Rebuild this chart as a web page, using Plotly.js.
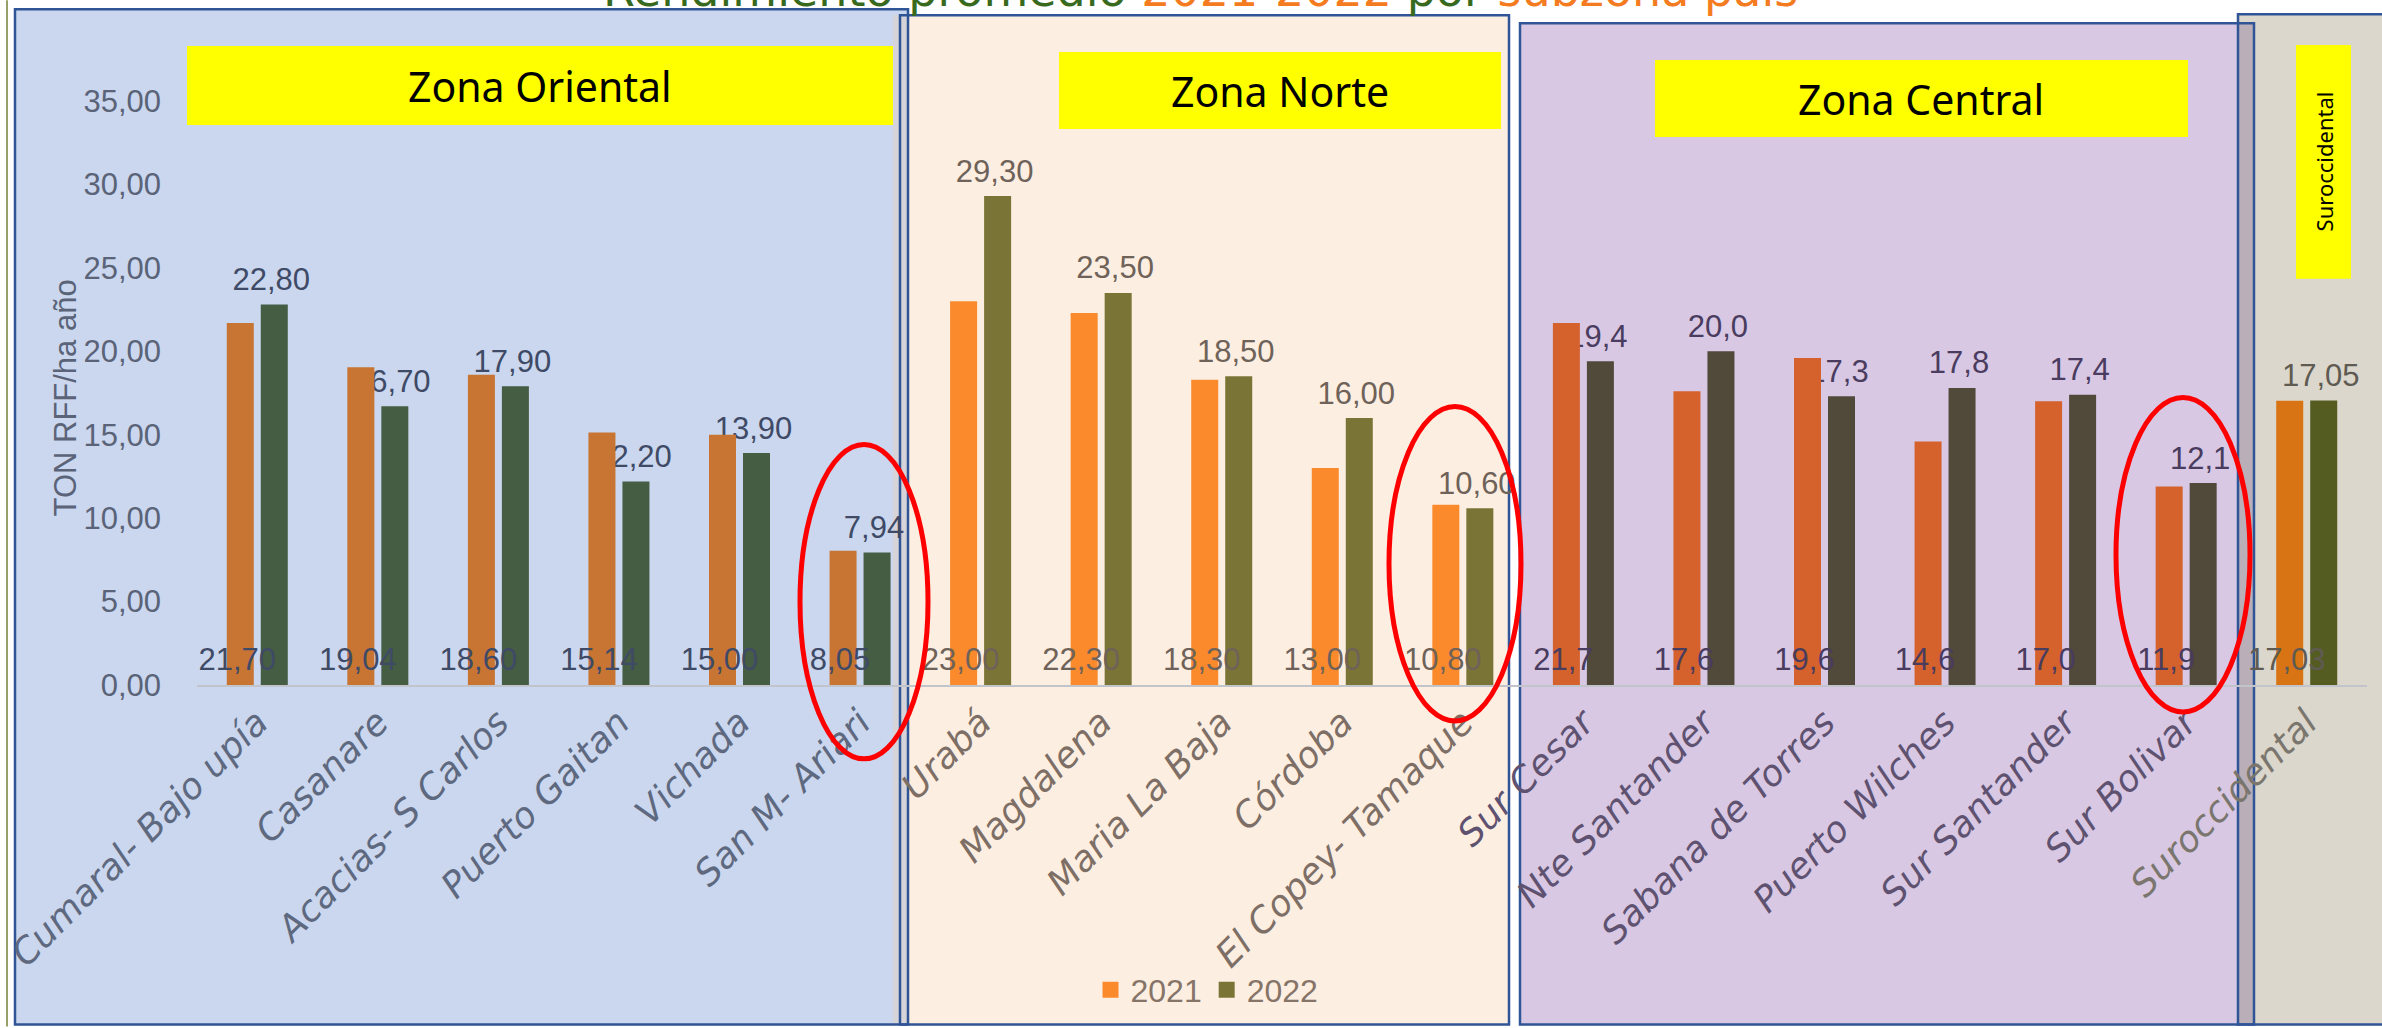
<!DOCTYPE html>
<html><head><meta charset="utf-8">
<script src="https://cdn.plot.ly/plotly-3.0.1.min.js"></script>
<style>html,body{margin:0;padding:0;background:#fff;overflow:hidden;} #chart{width:2382px;height:1028px;}</style>
</head><body><div id="chart"></div>
<script>
// ---------- data ----------
const categories = ["Cumaral- Bajo upía","Casanare","Acacias- S Carlos","Puerto Gaitan","Vichada","San M- Ariari",
  "Urabá","Magdalena","Maria La Baja","Córdoba","El Copey- Tamaque",
  "Sur Cesar","Nte Santander","Sabana de Torres","Puerto Wilches","Sur Santander","Sur Bolivar",
  "Suroccidental"];
const zones = ["O","O","O","O","O","O","N","N","N","N","N","C","C","C","C","C","C","S"];
const values2021 = [21.70,19.04,18.60,15.14,15.00,8.05,23.00,22.30,18.30,13.00,10.80,21.7,17.6,19.6,14.6,17.0,11.9,17.03];
const values2022 = [22.80,16.70,17.90,12.20,13.90,7.94,29.30,23.50,18.50,16.00,10.60,19.4,20.0,17.3,17.8,17.4,12.1,17.05];
const labels2021 = ["21,70","19,04","18,60","15,14","15,00","8,05","23,00","22,30","18,30","13,00","10,80","21,7","17,6","19,6","14,6","17,0","11,9","17,03"];
const labels2022 = ["22,80","16,70","17,90","12,20","13,90","7,94","29,30","23,50","18,50","16,00","10,60","19,4","20,0","17,3","17,8","17,4","12,1","17,05"];
const seriesNames = ["2021","2022"];
const zoneNames = ["Zona Oriental","Zona Norte","Zona Central","Suroccidental"];
const titleParts = ["Rendimiento promedio ","2021-2022"," por ","subzona país"];
const yTitle = "TON RFF/ha año";

// ---------- geometry helpers ----------
const W = 2382, H = 1028;
const M = {l:197, r:15, t:101, b:342};
const PW = W - M.l - M.r, PH = H - M.t - M.b;
const px = x => (x - M.l) / PW;
const py = y => (H - M.b - y) / PH;

const zoneStyle = {
  O: {c21:'#C87533', c22:'#455D43', txt:'#3F4A66', tick:'#5E6980'},
  N: {c21:'#FB8A2C', c22:'#7A7536', txt:'#6E6259', tick:'#7D6F66'},
  C: {c21:'#D5622C', c22:'#514A3A', txt:'#4A3C5E', tick:'#5E5270'},
  S: {c21:'#D97414', c22:'#545C22', txt:'#5F5B52', tick:'#7A766E'}
};
const numFont = 'Liberation Sans, Arial, sans-serif';
const barW = 0.224, barSep = 0.141;

const ticktext = categories.map((c,i)=>`<span style="color:${zoneStyle[zones[i]].tick}">${c}</span>`);

const traces = [
  {type:'bar', name:seriesNames[1], x:categories, y:values2022, showlegend:false,
   width:barW, offset:barSep - barW/2,
   marker:{color:zones.map(z=>zoneStyle[z].c22)},
   text:labels2022, texttemplate:'%{text}<sub>\u00a0</sub>', textposition:'outside', textangle:0, constraintext:'none',
   textfont:{family:numFont, size:31, color:zones.map(z=>zoneStyle[z].txt)},
   cliponaxis:false, hoverinfo:'skip'},
  {type:'bar', name:seriesNames[0], x:categories, y:values2021, showlegend:false,
   width:barW, offset:-barSep - barW/2,
   marker:{color:zones.map(z=>zoneStyle[z].c21)},
   text:labels2021, texttemplate:'%{text}<sub>\u00a0</sub>', textposition:'inside', insidetextanchor:'start', textangle:0, constraintext:'none',
   textfont:{family:numFont, size:31, color:zones.map(z=>zoneStyle[z].txt)},
   cliponaxis:false, hoverinfo:'skip'},
  {type:'scatter', mode:'markers', name:seriesNames[0], x:[null], y:[null],
   marker:{symbol:'square', size:16, color:zoneStyle.N.c21}},
  {type:'scatter', mode:'markers', name:seriesNames[1], x:[null], y:[null],
   marker:{symbol:'square', size:16, color:zoneStyle.N.c22}}
];

function rect(x0,x1,y0,y1,fill,line,layer){
  return {type:'rect', xref:'paper', yref:'paper', x0:px(x0), x1:px(x1), y0:py(y1), y1:py(y0),
    fillcolor:fill||'rgba(0,0,0,0)', line:line||{width:0}, layer:layer||'below'};
}
function ell(x0,x1,y0,y1){
  return {type:'circle', xref:'paper', yref:'paper', x0:px(x0), x1:px(x1), y0:py(y1), y1:py(y0),
    line:{color:'#FF0000', width:5}, layer:'above'};
}
const border = {color:'#2F5597', width:2.5};
const shapes = [
  rect(15,908,9,1026,'#CAD7EE'),
  rect(900,1509,15,1026,'#FDEEE2'),
  rect(1520,2254,23,1026,'#D8C8E4'),
  rect(2238,2400,14,1026,'#DBD7CC'),
  rect(893,908,15,1026,'#D6D4D8'),
  rect(2238,2254,23,1026,'#BAAFB8'),
  rect(15,908,9,1026,null,border),
  rect(900,1509,15,1026,null,border),
  rect(1520,2254,23,1026,null,border),
  rect(2238,2400,14,1026,null,border),
  {type:'line', xref:'paper', yref:'paper', x0:px(7), x1:px(7), y0:py(0), y1:py(1028), line:{color:'#95A165', width:2}, layer:'below'},
  rect(187,893,46,125,'#FFFF00'),
  rect(1059,1501,52,129,'#FFFF00'),
  rect(1655,2188,60,137,'#FFFF00'),
  rect(2296,2351,45,279,'#FFFF00'),
  ell(800,928,445,760),
  ell(1389,1521,407,722),
  ell(2116,2250,398,713)
];

const zoneFont = {family:'Noto Sans, sans-serif', size:41, color:'#000'};
const annotations = [
  {xref:'paper', yref:'paper', x:px(1200), y:py(19), xanchor:'center', yanchor:'bottom', showarrow:false,
   font:{family:'DejaVu Sans, sans-serif', size:46},
   text:`<span style="color:#386A1E">${titleParts[0]}</span><span style="color:#F47B20">${titleParts[1]}</span><span style="color:#386A1E">${titleParts[2]}</span><span style="color:#F47B20">${titleParts[3]}</span>`},
  {xref:'paper', yref:'paper', x:px(65), y:py(399), xanchor:'center', yanchor:'middle', showarrow:false,
   textangle:-90, text:yTitle, font:{family:numFont, size:31, color:'#5A6378'}},
  {xref:'paper', yref:'paper', x:px(540), y:py(86), xanchor:'center', yanchor:'middle', showarrow:false, text:zoneNames[0], font:zoneFont},
  {xref:'paper', yref:'paper', x:px(1280), y:py(91), xanchor:'center', yanchor:'middle', showarrow:false, text:zoneNames[1], font:zoneFont},
  {xref:'paper', yref:'paper', x:px(1921), y:py(99), xanchor:'center', yanchor:'middle', showarrow:false, text:zoneNames[2], font:zoneFont},
  {xref:'paper', yref:'paper', x:px(2323.5), y:py(162), xanchor:'center', yanchor:'middle', showarrow:false, textangle:-90,
   text:zoneNames[3], font:{family:'Noto Sans, sans-serif', size:22, color:'#000'}}
];

const layout = {
  width:W, height:H, margin:M, autosize:false,
  paper_bgcolor:'#FFFFFF', plot_bgcolor:'rgba(0,0,0,0)',
  separators:',.',
  barmode:'overlay',
  showlegend:true,
  legend:{orientation:'h', x:px(1207), xanchor:'center', y:py(990), yanchor:'middle',
    bgcolor:'rgba(0,0,0,0)', font:{family:numFont, size:32, color:'#857467'}, itemwidth:30},
  xaxis:{type:'category', tickmode:'array', tickvals:categories, ticktext:ticktext, tickangle:-45,
    tickfont:{family:'DejaVu Sans, sans-serif', size:36, style:'italic', color:'#5E6980'},
    showline:true, linecolor:'#C2C4CC', linewidth:2, ticks:'', showgrid:false, zeroline:false, fixedrange:true},
  yaxis:{range:[0,35], dtick:5, tick0:0, tickformat:'.2f', showgrid:false, zeroline:false, showline:false,
    ticks:'', ticklabelstandoff:35, tickfont:{family:numFont, size:31, color:'#5A6378'}, fixedrange:true},
  shapes:shapes, annotations:annotations
};

Plotly.newPlot('chart', traces, layout, {staticPlot:true, displayModeBar:false});
</script>
</body></html>
